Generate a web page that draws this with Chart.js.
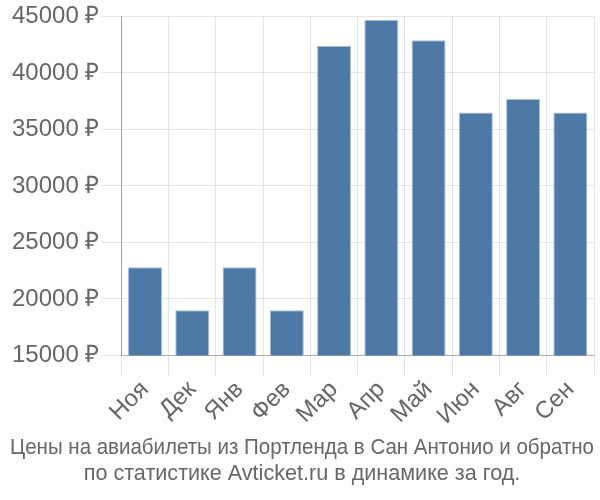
<!DOCTYPE html>
<html>
<head>
<meta charset="utf-8">
<script src="https://cdn.jsdelivr.net/npm/chart.js@4"></script>
<style>
  body { margin: 0; background: #fff; }
  #wrap { width: 600px; height: 500px; }
</style>
</head>
<body>
<div id="wrap"><canvas id="chartPrecos"></canvas></div>
<script>
// ======= DADOS =======
const meses = ["Ноя", "Дек", "Янв", "Фев", "Мар", "Апр", "Май", "Июн", "Авг", "Сен"];
const precos = [22800, 19000, 22800, 19000, 42400, 44700, 42900, 36500, 37700, 36500];
const titulo = [
  "Цены на авиабилеты из Портленда в Сан Антонио и обратно",
  "по статистике Avticket.ru в динамике за год.",
];

Chart.defaults.font.family = "'Liberation Sans', Arial, sans-serif";
Chart.defaults.color = "#666";

const ctx = document.getElementById("chartPrecos").getContext("2d");
new Chart(ctx, {
  type: "bar",
  data: {
    labels: meses,
    datasets: [{
      data: precos,
      backgroundColor: "#4e79a7",
      borderColor: "#a9c1da",
      borderWidth: 1,
    }],
  },
  options: {
    responsive: true,
    maintainAspectRatio: false,
    animation: false,
    layout: { padding: { top: 4, right: 6, left: 10, bottom: 0 } },
    plugins: {
      legend: { display: false },
      tooltip: { enabled: false },
      title: {
        display: true,
        position: "bottom",
        text: titulo,
        color: "#666",
        font: { size: 21.6, weight: "normal" },
        padding: { top: 5, bottom: 13 },
        lineHeight: 1.2,
      },
    },
    scales: {
      x: {
        grid: { color: "rgba(0,0,0,0.1)", tickLength: 20, offset: true },
        border: { color: "rgba(0,0,0,0.25)" },
        ticks: { font: { size: 24 }, maxRotation: 45, minRotation: 45, padding: 0 },
      },
      y: {
        min: 15000,
        max: 45000,
        grid: { color: "rgba(0,0,0,0.1)", tickLength: 20 },
        border: { color: "rgba(0,0,0,0.3)" },
        ticks: {
          stepSize: 5000,
          font: { size: 24 },
          padding: 2,
          callback: (v) => v + " ₽",
        },
      },
    },
  },
});
</script>
</body>
</html>
